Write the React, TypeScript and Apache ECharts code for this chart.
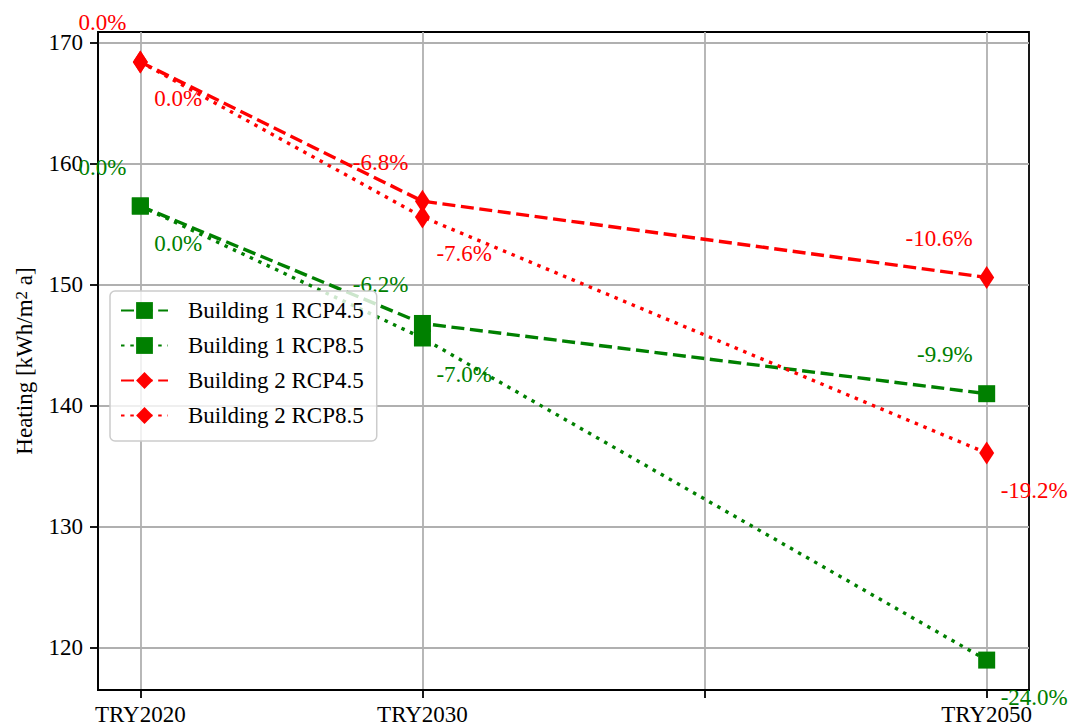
import React, { useEffect, useRef } from "react";
import * as echarts from "echarts";

// Scenario years on the x axis and heating demand per building / climate pathway
const years = [2020, 2030, 2050];
const building1Rcp45 = [156.5, 146.8, 141.0];
const building1Rcp85 = [156.5, 145.6, 119.0];
const building2Rcp45 = [168.4, 156.9, 150.6];
const building2Rcp85 = [168.4, 155.6, 136.1];

const seriesNames = [
  "Building 1 RCP4.5",
  "Building 1 RCP8.5",
  "Building 2 RCP4.5",
  "Building 2 RCP8.5",
];

const xTickValues = [2020, 2030, 2040, 2050];
const xTickLabels = ["TRY2020", "TRY2030", "", "TRY2050"];
const yTickValues = [120, 130, 140, 150, 160, 170];

// axis extents with 5% padding around the data
const xMin = 2018.5;
const xMax = 2051.5;
const yMin = 116.53;
const yMax = 170.87;

const FONT = "'Liberation Serif', 'Times New Roman', serif";
const GREEN = "#008000";
const RED = "#ff0000";
const DASHED = [13, 5.6];
const DOTTED = [3.5, 5.8];

// change relative to the first (2020) value of the same series
const pctLabel = (values: number[]) => (p: any) => {
  const v = values[p.dataIndex];
  const pct = (v / values[0] - 1) * 100;
  const s = Math.abs(pct) < 0.05 ? "0.0" : pct.toFixed(1);
  return s + "%";
};

const makeSeries = (
  name: string,
  values: number[],
  color: string,
  dash: number[],
  symbol: string,
  symbolSize: any,
  above: boolean
) => ({
  name,
  type: "line",
  data: values.map((v, i) => [years[i], v]),
  symbol,
  symbolSize,
  showAllSymbol: true,
  lineStyle: { color, width: 3.4, type: dash, cap: "butt" },
  itemStyle: { color },
  label: {
    show: true,
    position: "inside",
    align: above ? "right" : "left",
    verticalAlign: "middle",
    offset: above ? [-14, -39] : [14, 37],
    formatter: pctLabel(values),
    color,
    fontSize: 23,
    fontFamily: FONT,
  },
  emphasis: { disabled: true },
});

export default function App() {
  const ref = useRef<HTMLDivElement>(null);

  useEffect(() => {
    if (!ref.current) return;
    const chart = echarts.init(ref.current, null, { renderer: "svg" });
    chart.setOption({
      animation: false,
      backgroundColor: "#ffffff",
      textStyle: { fontFamily: FONT },
      grid: {
        left: 98,
        right: 46,
        top: 32,
        bottom: 35,
        show: true,
        borderColor: "#000",
        borderWidth: 1.8,
        backgroundColor: "transparent",
      },
      legend: {
        orient: "vertical",
        left: 110,
        top: 291,
        data: seriesNames,
        itemWidth: 47,
        itemHeight: 21,
        itemGap: 12,
        padding: [8, 13, 14, 10],
        backgroundColor: "rgba(255,255,255,0.8)",
        borderColor: "#cccccc",
        borderWidth: 1.5,
        borderRadius: 5,
        textStyle: {
          fontSize: 23,
          fontFamily: FONT,
          color: "#000",
          padding: [0, 0, 0, 15],
        },
      },
      xAxis: {
        type: "value",
        min: xMin,
        max: xMax,
        axisLine: { show: true, onZero: false, lineStyle: { color: "#000", width: 1.8 } },
        axisTick: {
          show: true,
          customValues: xTickValues,
          length: 8,
          lineStyle: { color: "#000", width: 1.8 },
        },
        axisLabel: {
          customValues: xTickValues,
          formatter: (v: number) => xTickLabels[xTickValues.indexOf(v)] ?? "",
          color: "#000",
          fontSize: 23,
          fontFamily: FONT,
          margin: 13,
        },
        splitLine: {
          show: true,
          customValues: xTickValues,
          lineStyle: { color: "#b0b0b0", width: 1.8 },
        },
      },
      yAxis: {
        type: "value",
        min: yMin,
        max: yMax,
        name: "{a|Heating [kWh/m}{b|2}{a| a]}",
        nameLocation: "middle",
        nameGap: 62,
        nameTextStyle: {
          rich: {
            a: { fontSize: 23, fontFamily: FONT, color: "#000" },
            b: { fontSize: 17, fontFamily: FONT, color: "#000", verticalAlign: "top" },
          },
        },
        axisLine: { show: true, onZero: false, lineStyle: { color: "#000", width: 1.8 } },
        axisTick: {
          show: true,
          customValues: yTickValues,
          length: 8,
          lineStyle: { color: "#000", width: 1.8 },
        },
        axisLabel: {
          customValues: yTickValues,
          color: "#000",
          fontSize: 23,
          fontFamily: FONT,
          margin: 15,
        },
        splitLine: {
          show: true,
          customValues: yTickValues,
          lineStyle: { color: "#b0b0b0", width: 1.8 },
        },
      },
      series: [
        makeSeries(seriesNames[0], building1Rcp45, GREEN, DASHED, "rect", 17, true),
        makeSeries(seriesNames[1], building1Rcp85, GREEN, DOTTED, "rect", 17, false),
        makeSeries(seriesNames[2], building2Rcp45, RED, DASHED, "diamond", [15, 23], true),
        makeSeries(seriesNames[3], building2Rcp85, RED, DOTTED, "diamond", [15, 23], false),
      ],
    });
    return () => chart.dispose();
  }, []);

  return (
    <div
      ref={ref}
      style={{ position: "fixed", left: 0, top: 0, width: 1075, height: 726 }}
    />
  );
}
